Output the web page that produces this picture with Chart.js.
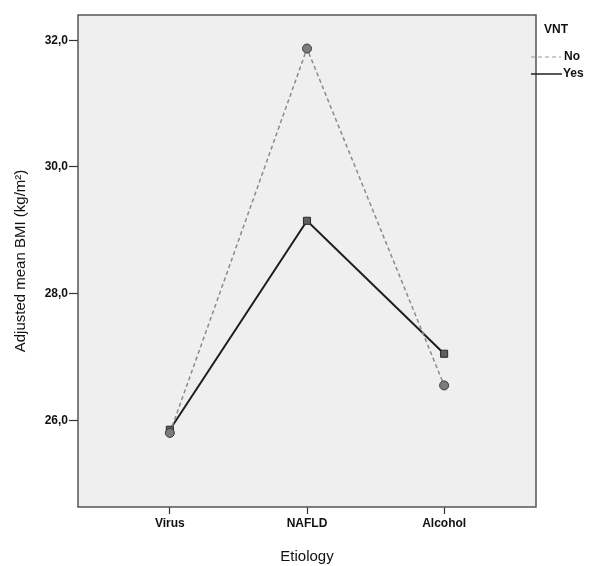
<!DOCTYPE html>
<html>
<head>
<meta charset="utf-8">
<script src="https://cdn.jsdelivr.net/npm/chart.js@4"></script>
<style>
  html, body { margin: 0; padding: 0; background: #fff; }
  #wrap { width: 590px; height: 566px; }
</style>
</head>
<body>
<div id="wrap"><canvas id="chart"></canvas></div>
<script>
// etiology groups on the x axis
const categories = ['Virus', 'NAFLD', 'Alcohol'];
// adjusted mean BMI, VNT = No (dashed) and VNT = Yes (solid)
const noValues = [25.80, 31.87, 26.55];
const yesValues = [25.85, 29.15, 27.05];
const yTicks = [26, 28, 30, 32];
const legendTitle = 'VNT';
const seriesNames = ['No', 'Yes'];

const toPoints = vals => vals.map((v, i) => ({ x: i, y: v }));

//grey panel behind the plot + frame around it
const panel = {
  id: 'panel',
  beforeDraw(chart) {
    const { ctx, chartArea: a } = chart;
    ctx.save();
    ctx.fillStyle = '#efefef';
    ctx.fillRect(a.left, a.top, a.right - a.left, a.bottom - a.top);
    ctx.restore();
  },
  afterDraw(chart) {
    const { ctx, chartArea: a } = chart;
    ctx.save();
    ctx.strokeStyle = '#555';
    ctx.lineWidth = 1.5;
    ctx.strokeRect(a.left, a.top, a.right - a.left, a.bottom - a.top);

    //legend on the right, SPSS style
    ctx.fillStyle = '#111';
    ctx.font = 'bold 12px "Liberation Sans", Arial, sans-serif';
    ctx.textBaseline = 'middle';
    ctx.textAlign = 'left';
    ctx.fillText(legendTitle, 544, 30);

    ctx.strokeStyle = '#999';
    ctx.lineWidth = 1.2;
    ctx.setLineDash([4, 3]);
    ctx.beginPath();
    ctx.moveTo(531, 57);
    ctx.lineTo(561, 57);
    ctx.stroke();
    ctx.setLineDash([]);
    ctx.fillText(seriesNames[0], 564, 57);

    ctx.strokeStyle = '#222';
    ctx.lineWidth = 1.5;
    ctx.beginPath();
    ctx.moveTo(531, 74);
    ctx.lineTo(562, 74);
    ctx.stroke();
    ctx.fillText(seriesNames[1], 563, 74);
    ctx.restore();
  }
};

const tickFont = { family: '"Liberation Sans", Arial, sans-serif', size: 12, weight: 'bold' };
const titleFont = { family: '"Liberation Sans", Arial, sans-serif', size: 15 };

new Chart(document.getElementById('chart'), {
  type: 'line',
  data: {
    datasets: [
      {
        label: seriesNames[0],
        data: toPoints(noValues),
        borderColor: '#8a8a8a',
        borderWidth: 1.5,
        borderDash: [4, 3],
        pointStyle: 'circle',
        pointRadius: 4.5,
        pointBackgroundColor: '#7c7c7c',
        pointBorderColor: '#3a3a3a',
        pointBorderWidth: 1,
        tension: 0
      },
      {
        label: seriesNames[1],
        data: toPoints(yesValues),
        borderColor: '#1e1e1e',
        borderWidth: 2,
        pointStyle: 'rect',
        pointRadius: 5,
        pointBackgroundColor: '#5e5e5e',
        pointBorderColor: '#2a2a2a',
        pointBorderWidth: 1,
        tension: 0
      }
    ]
  },
  options: {
    responsive: true,
    maintainAspectRatio: false,
    animation: false,
    layout: { padding: { top: 15, right: 54, left: 0, bottom: 0 } },
    plugins: {
      legend: { display: false },
      tooltip: { enabled: false }
    },
    scales: {
      x: {
        type: 'linear',
        min: -0.67,
        max: 2.67,
        afterBuildTicks: s => { s.ticks = categories.map((c, i) => ({ value: i })); },
        afterFit: s => { s.height = 59; },
        border: { display: false },
        grid: { drawOnChartArea: false, tickLength: 7, tickColor: '#333', tickWidth: 1.2 },
        ticks: {
          color: '#111',
          font: tickFont,
          padding: 2,
          callback: v => categories[v]
        },
        title: {
          display: true,
          text: 'Etiology',
          color: '#111',
          font: titleFont,
          padding: { top: 10, bottom: 0 }
        }
      },
      y: {
        min: 24.63,
        max: 32.4,
        afterBuildTicks: s => { s.ticks = yTicks.map(v => ({ value: v })); },
        afterFit: s => { s.width = 78; },
        border: { display: false },
        grid: { drawOnChartArea: false, tickLength: 9, tickColor: '#333', tickWidth: 1.2 },
        ticks: {
          color: '#111',
          font: tickFont,
          padding: 1,
          callback: v => v.toFixed(1).replace('.', ',')
        },
        title: {
          display: true,
          text: 'Adjusted mean BMI (kg/m²)',
          color: '#111',
          font: titleFont,
          padding: { top: 12, bottom: 0 }
        }
      }
    }
  },
  plugins: [panel]
});
</script>
</body>
</html>
